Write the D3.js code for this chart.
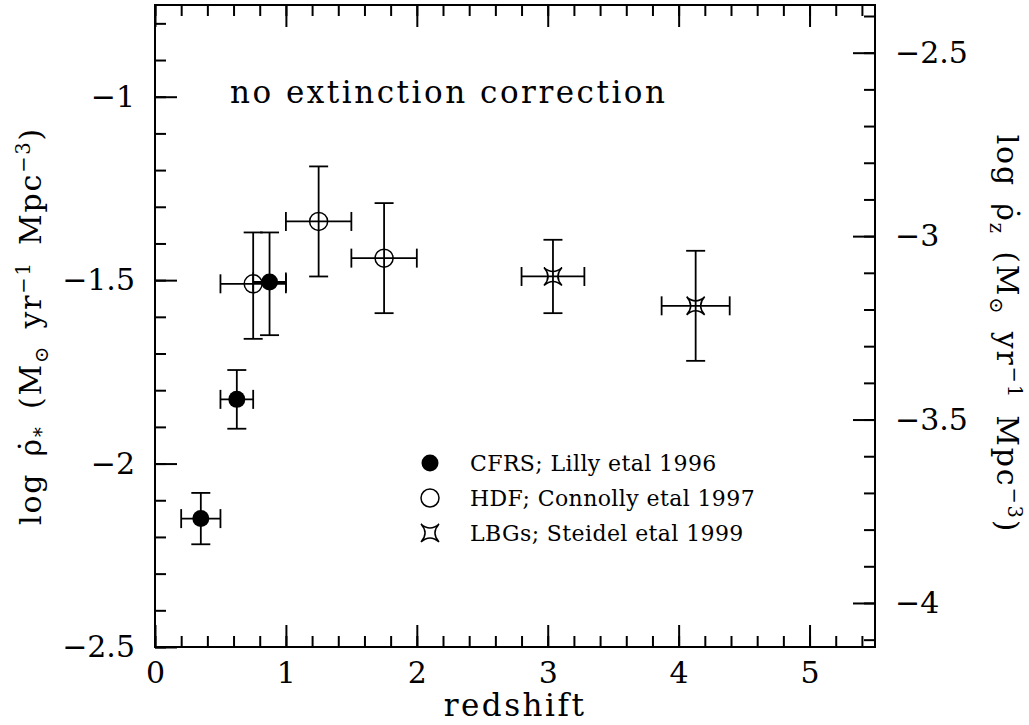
<!DOCTYPE html>
<html>
<head>
<meta charset="utf-8">
<script src="https://cdn.jsdelivr.net/npm/d3@7"></script>
<style>
  body { margin: 0; background: #fff; }
  text { font-family: "DejaVu Serif", serif; fill: #000; }
</style>
</head>
<body>
<div id="chart"></div>
<script>
// size of the page and the plot box
const width = 1029;
const height = 725;
const box = {left: 155, right: 875, top: 5, bottom: 647};

// CFRS; Lilly etal 1996 (filled circles)
const cfrsZ    = [0.35, 0.625, 0.875];
const cfrsZlo  = [0.2, 0.5, 0.75];
const cfrsZhi  = [0.5, 0.75, 1.0];
const cfrsRho  = [-2.15, -1.825, -1.505];
const cfrsLo   = [-2.22, -1.905, -1.65];
const cfrsHi   = [-2.08, -1.745, -1.37];

// HDF; Connolly etal 1997 (open circles)
const hdfZ    = [0.75, 1.25, 1.75];
const hdfZlo  = [0.5, 1.0, 1.5];
const hdfZhi  = [1.0, 1.5, 2.0];
const hdfRho  = [-1.51, -1.34, -1.44];
const hdfLo   = [-1.66, -1.49, -1.59];
const hdfHi   = [-1.37, -1.19, -1.29];

// LBGs; Steidel etal 1999 (stars)
const lbgZ    = [3.04, 4.13];
const lbgZlo  = [2.8, 3.87];
const lbgZhi  = [3.28, 4.39];
const lbgRho  = [-1.49, -1.57];
const lbgLo   = [-1.59, -1.72];
const lbgHi   = [-1.39, -1.42];

// axes
const xTicks = [0, 1, 2, 3, 4, 5];
const leftTicks = [-2.5, -2, -1.5, -1];
const rightTicks = [-4, -3.5, -3, -2.5];
const metalOffset = 1.62;   // log rho_z = log rho_* - 1.62

const legendLabels = ["CFRS; Lilly etal 1996", "HDF; Connolly etal 1997", "LBGs; Steidel etal 1999"];
const legendKinds = ["filled", "open", "star"];

const svg = d3.select("#chart")
  .append("svg")
  .attr("width", width)
  .attr("height", height);

// scales
const xScale = d3.scaleLinear().domain([0, 5.5]).range([box.left, box.right]);
const yLeft = d3.scaleLinear().domain([-2.5, -0.75]).range([box.bottom, box.top]);
const yRight = d3.scaleLinear()
  .domain([-2.5 - metalOffset, -0.75 - metalOffset])
  .range([box.bottom, box.top]);

const fmt = d => d3.format("")(d);
const majorLen = 22, minorLen = 11;

function styleAxis(g) {
  g.select(".domain").remove();
  g.selectAll("line").attr("stroke", "#000").attr("stroke-width", 2);
  g.attr("font-family", null).attr("font-size", null);
}

// minor ticks
const xMinor = d3.range(0, 5.5001, 0.2).map(v => +v.toFixed(2));
const yMinorL = d3.range(-2.5, -0.7499, 0.1).map(v => +v.toFixed(2));
const yMinorR = d3.range(-4.1, -2.37, 0.1).map(v => +v.toFixed(2));

svg.append("g").attr("transform", `translate(0,${box.bottom})`)
  .call(d3.axisBottom(xScale).tickValues(xMinor).tickSize(-minorLen).tickFormat(""))
  .call(styleAxis);
svg.append("g").attr("transform", `translate(0,${box.top})`)
  .call(d3.axisTop(xScale).tickValues(xMinor).tickSize(-minorLen).tickFormat(""))
  .call(styleAxis);
svg.append("g").attr("transform", `translate(${box.left},0)`)
  .call(d3.axisLeft(yLeft).tickValues(yMinorL).tickSize(-minorLen).tickFormat(""))
  .call(styleAxis);
svg.append("g").attr("transform", `translate(${box.right},0)`)
  .call(d3.axisRight(yRight).tickValues(yMinorR).tickSize(-minorLen).tickFormat(""))
  .call(styleAxis);

// major ticks with labels
svg.append("g").attr("transform", `translate(0,${box.bottom})`)
  .call(d3.axisBottom(xScale).tickValues(xTicks).tickSize(-majorLen).tickPadding(10).tickFormat(fmt))
  .call(styleAxis)
  .selectAll("text").attr("font-size", 30).attr("y", 15).attr("dy", "0.71em");
svg.append("g").attr("transform", `translate(0,${box.top})`)
  .call(d3.axisTop(xScale).tickValues(xTicks).tickSize(-majorLen).tickFormat(""))
  .call(styleAxis);
svg.append("g").attr("transform", `translate(${box.left},0)`)
  .call(d3.axisLeft(yLeft).tickValues(leftTicks).tickSize(-majorLen).tickPadding(20).tickFormat(fmt))
  .call(styleAxis)
  .selectAll("text").attr("font-size", 30);
svg.append("g").attr("transform", `translate(${box.right},0)`)
  .call(d3.axisRight(yRight).tickValues(rightTicks).tickSize(-majorLen).tickPadding(20).tickFormat(fmt))
  .call(styleAxis)
  .selectAll("text").attr("font-size", 30);

// frame
svg.append("rect")
  .attr("x", box.left).attr("y", box.top)
  .attr("width", box.right - box.left).attr("height", box.bottom - box.top)
  .attr("fill", "none").attr("stroke", "#000").attr("stroke-width", 2);

// axis titles
svg.append("text")
  .attr("x", (box.left + box.right) / 2).attr("y", 716)
  .attr("text-anchor", "middle").attr("font-size", 31)
  .attr("letter-spacing", 2.5)
  .text("redshift");

function axisTitle(t, sub) {
  t.append("tspan").text("log \u03C1\u0307");
  t.append("tspan").attr("font-size", "65%").attr("dy", 7).text(sub);
  t.append("tspan").attr("dy", -7).text(" (M");
  t.append("tspan").attr("font-size", "65%").attr("dy", 7).text("\u2299");
  t.append("tspan").attr("dy", -7).text(" yr");
  t.append("tspan").attr("font-size", "65%").attr("dy", -11).text("\u22121");
  t.append("tspan").attr("dy", 11).text(" Mpc");
  t.append("tspan").attr("font-size", "65%").attr("dy", -11).text("\u22123");
  t.append("tspan").attr("dy", 11).text(")");
}

const yMid = (box.top + box.bottom) / 2;
svg.append("text")
  .attr("transform", `translate(41,${yMid}) rotate(-90)`)
  .attr("text-anchor", "middle").attr("font-size", 30)
  .attr("letter-spacing", 1.8).attr("word-spacing", 5)
  .call(axisTitle, "*");
svg.append("text")
  .attr("transform", `translate(997,${yMid + 8}) rotate(90)`)
  .attr("text-anchor", "middle").attr("font-size", 30)
  .attr("letter-spacing", 1.8).attr("word-spacing", 5)
  .call(axisTitle, "z");

// label inside the plot
svg.append("text")
  .attr("x", 230).attr("y", 103)
  .attr("font-size", 31)
  .attr("textLength", 435).attr("lengthAdjust", "spacing")
  .text("no extinction correction");

// error bars
const capW = 9.5;
function errorBars(z, zlo, zhi, rho, lo, hi) {
  const g = svg.append("g").attr("stroke", "#000").attr("stroke-width", 1.8).attr("fill", "none");
  z.forEach((d, i) => {
    const cx = xScale(d), cy = yLeft(rho[i]);
    const x0 = xScale(zlo[i]), x1 = xScale(zhi[i]);
    const y0 = yLeft(lo[i]), y1 = yLeft(hi[i]);
    g.append("line").attr("x1", cx).attr("x2", cx).attr("y1", y0).attr("y2", y1);
    g.append("line").attr("x1", cx - capW).attr("x2", cx + capW).attr("y1", y0).attr("y2", y0);
    g.append("line").attr("x1", cx - capW).attr("x2", cx + capW).attr("y1", y1).attr("y2", y1);
    g.append("line").attr("x1", x0).attr("x2", x1).attr("y1", cy).attr("y2", cy);
    g.append("line").attr("x1", x0).attr("x2", x0).attr("y1", cy - capW).attr("y2", cy + capW);
    g.append("line").attr("x1", x1).attr("x2", x1).attr("y1", cy - capW).attr("y2", cy + capW);
  });
}
errorBars(cfrsZ, cfrsZlo, cfrsZhi, cfrsRho, cfrsLo, cfrsHi);
errorBars(hdfZ, hdfZlo, hdfZhi, hdfRho, hdfLo, hdfHi);
errorBars(lbgZ, lbgZlo, lbgZhi, lbgRho, lbgLo, lbgHi);

// four pointed star, points on the diagonals, concave sides
function starPath(a) {
  const c = 0.1 * a;
  return `M${-a},${-a}Q0,${-c} ${a},${-a}Q${c},0 ${a},${a}Q0,${c} ${-a},${a}Q${-c},0 ${-a},${-a}Z`;
}

function drawMarker(sel, kind) {
  if (kind === "filled") {
    sel.append("circle").attr("r", 8.5).attr("fill", "#000");
  } else if (kind === "open") {
    sel.append("circle").attr("r", 9).attr("fill", "none").attr("stroke", "#000").attr("stroke-width", 1.5);
  } else {
    sel.append("path").attr("d", starPath(9)).attr("fill", "none")
      .attr("stroke", "#000").attr("stroke-width", 1.5).attr("stroke-linejoin", "miter");
  }
}

cfrsZ.forEach((d, i) => {
  svg.append("g").attr("transform", `translate(${xScale(d)},${yLeft(cfrsRho[i])})`).call(drawMarker, "filled");
});
hdfZ.forEach((d, i) => {
  svg.append("g").attr("transform", `translate(${xScale(d)},${yLeft(hdfRho[i])})`).call(drawMarker, "open");
});
lbgZ.forEach((d, i) => {
  svg.append("g").attr("transform", `translate(${xScale(d)},${yLeft(lbgRho[i])})`).call(drawMarker, "star");
});

// legend
const legend = svg.append("g").attr("transform", "translate(430,463)");
legendLabels.forEach((label, i) => {
  const row = legend.append("g").attr("transform", `translate(0,${i * 35})`);
  row.call(drawMarker, legendKinds[i]);
  row.append("text").attr("x", 40).attr("y", 8).attr("font-size", 22)
    .attr("letter-spacing", 0.4).text(label);
});
</script>
</body>
</html>
